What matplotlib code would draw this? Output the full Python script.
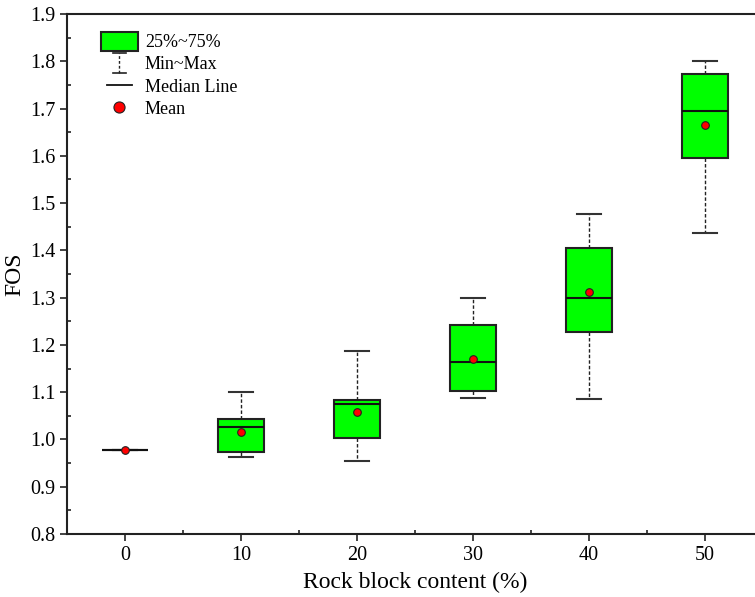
import matplotlib
matplotlib.use("Agg")
import matplotlib.pyplot as plt
from matplotlib.lines import Line2D
from matplotlib.patches import Rectangle
from matplotlib.legend_handler import HandlerBase
from matplotlib.ticker import MultipleLocator, FormatStrFormatter

plt.rcParams['font.family'] = ['Liberation Serif', 'DejaVu Serif']

# data
positions = [0, 10, 20, 30, 40, 50]
mins = [0.978, 0.963, 0.955, 1.088, 1.086, 1.437]
q1s = [0.978, 0.973, 1.004, 1.103, 1.227, 1.596]
medians = [0.978, 1.027, 1.075, 1.164, 1.299, 1.695]
q3s = [0.978, 1.043, 1.084, 1.242, 1.406, 1.774]
maxs = [0.978, 1.100, 1.187, 1.299, 1.476, 1.801]
means = [0.978, 1.016, 1.058, 1.171, 1.311, 1.666]
xlabel = "Rock block content (%)"
ylabel = "FOS"
legend_labels = ["25%~75%", "Min~Max", "Median Line", "Mean"]

GREEN = "#00FF00"

fig = plt.figure(figsize=(7.55, 5.97), dpi=100)
ax = fig.add_axes([67/755, 1-534/597, 696/755, 520/597])

stats = []
for i in range(len(positions)):
    stats.append(dict(med=medians[i], q1=q1s[i], q3=q3s[i],
                      whislo=mins[i], whishi=maxs[i], mean=means[i], fliers=[]))

ax.bxp(stats, positions=positions, widths=4, capwidths=2, patch_artist=True,
       showmeans=True, showfliers=False,
       boxprops=dict(facecolor=GREEN, edgecolor='#222222', linewidth=1.5),
       whiskerprops=dict(color='#222222', linestyle=(0, (2.5, 1.5)), linewidth=1.0),
       capprops=dict(color='#333333', linewidth=1.5),
       medianprops=dict(color='#111111', linewidth=1.5),
       meanprops=dict(marker='o', markerfacecolor='red', markeredgecolor='#222222',
                      markersize=5.5, markeredgewidth=0.8))

ax.set_xlim(-5, 55)
ax.set_ylim(0.8, 1.9)
ax.set_xticks(positions)
ax.set_xticklabels([str(p) for p in positions])
ax.xaxis.set_minor_locator(MultipleLocator(5))
ax.yaxis.set_major_locator(MultipleLocator(0.1))
ax.yaxis.set_minor_locator(MultipleLocator(0.05))
ax.yaxis.set_major_formatter(FormatStrFormatter('%.1f'))
ax.tick_params(which='major', direction='out', length=5, width=1.2, labelsize=14.5, color='#222222', pad=3.5)
ax.tick_params(which='minor', direction='in', length=3, width=1.2, color='#222222')
ax.tick_params(axis='both', which='both', top=False, right=False)
for s in ax.spines.values():
    s.set_linewidth(1.5)
    s.set_color('#222222')

ax.set_xlabel(xlabel, fontsize=17, labelpad=5)
ax.set_ylabel(ylabel, fontsize=17)
ax.yaxis.set_label_coords(-42/696, 0.5)


class HandlerBoxPatch(HandlerBase):
    def create_artists(self, legend, orig_handle, xdescent, ydescent, width, height, fontsize, trans):
        r = Rectangle((-xdescent, -ydescent - 0.25 * height), width, height * 1.45,
                      facecolor=GREEN, edgecolor='#222222', linewidth=1.5, transform=trans)
        return [r]


class HandlerMinMax(HandlerBase):
    def create_artists(self, legend, orig_handle, xdescent, ydescent, width, height, fontsize, trans):
        cx = -xdescent + width / 2
        y0 = -ydescent - 0.3 * height
        y1 = -ydescent + 1.3 * height
        cw = width * 0.17
        v = Line2D([cx, cx], [y0, y1], color='#222222', linestyle=(0, (2, 1.5)), linewidth=1.0, transform=trans)
        c1 = Line2D([cx - cw, cx + cw], [y0, y0], color='#222222', linewidth=1.2, transform=trans)
        c2 = Line2D([cx - cw, cx + cw], [y1, y1], color='#222222', linewidth=1.2, transform=trans)
        return [v, c1, c2]


class HandlerMedian(HandlerBase):
    def create_artists(self, legend, orig_handle, xdescent, ydescent, width, height, fontsize, trans):
        cx = -xdescent + width / 2
        y = -ydescent + height / 2
        hw = width * 0.32
        return [Line2D([cx - hw, cx + hw], [y, y], color='#111111', linewidth=1.3, transform=trans)]


class HandlerMean(HandlerBase):
    def create_artists(self, legend, orig_handle, xdescent, ydescent, width, height, fontsize, trans):
        cx = -xdescent + width / 2
        y = -ydescent + height / 2
        return [Line2D([cx], [y], marker='o', markersize=8, markerfacecolor='red',
                       markeredgecolor='#222222', markeredgewidth=0.8, linestyle='none', transform=trans)]


class H1: pass
class H2: pass
class H3: pass
class H4: pass

handles = [H1(), H2(), H3(), H4()]
leg = ax.legend(handles, legend_labels,
                handler_map={H1: HandlerBoxPatch(), H2: HandlerMinMax(), H3: HandlerMedian(), H4: HandlerMean()},
                loc='upper left', bbox_to_anchor=(0.03, 0.985), frameon=False, fontsize=13,
                handlelength=2.1, handletextpad=0.35, labelspacing=0.28, borderaxespad=0.3)

fig.savefig("out.png", dpi=100)
